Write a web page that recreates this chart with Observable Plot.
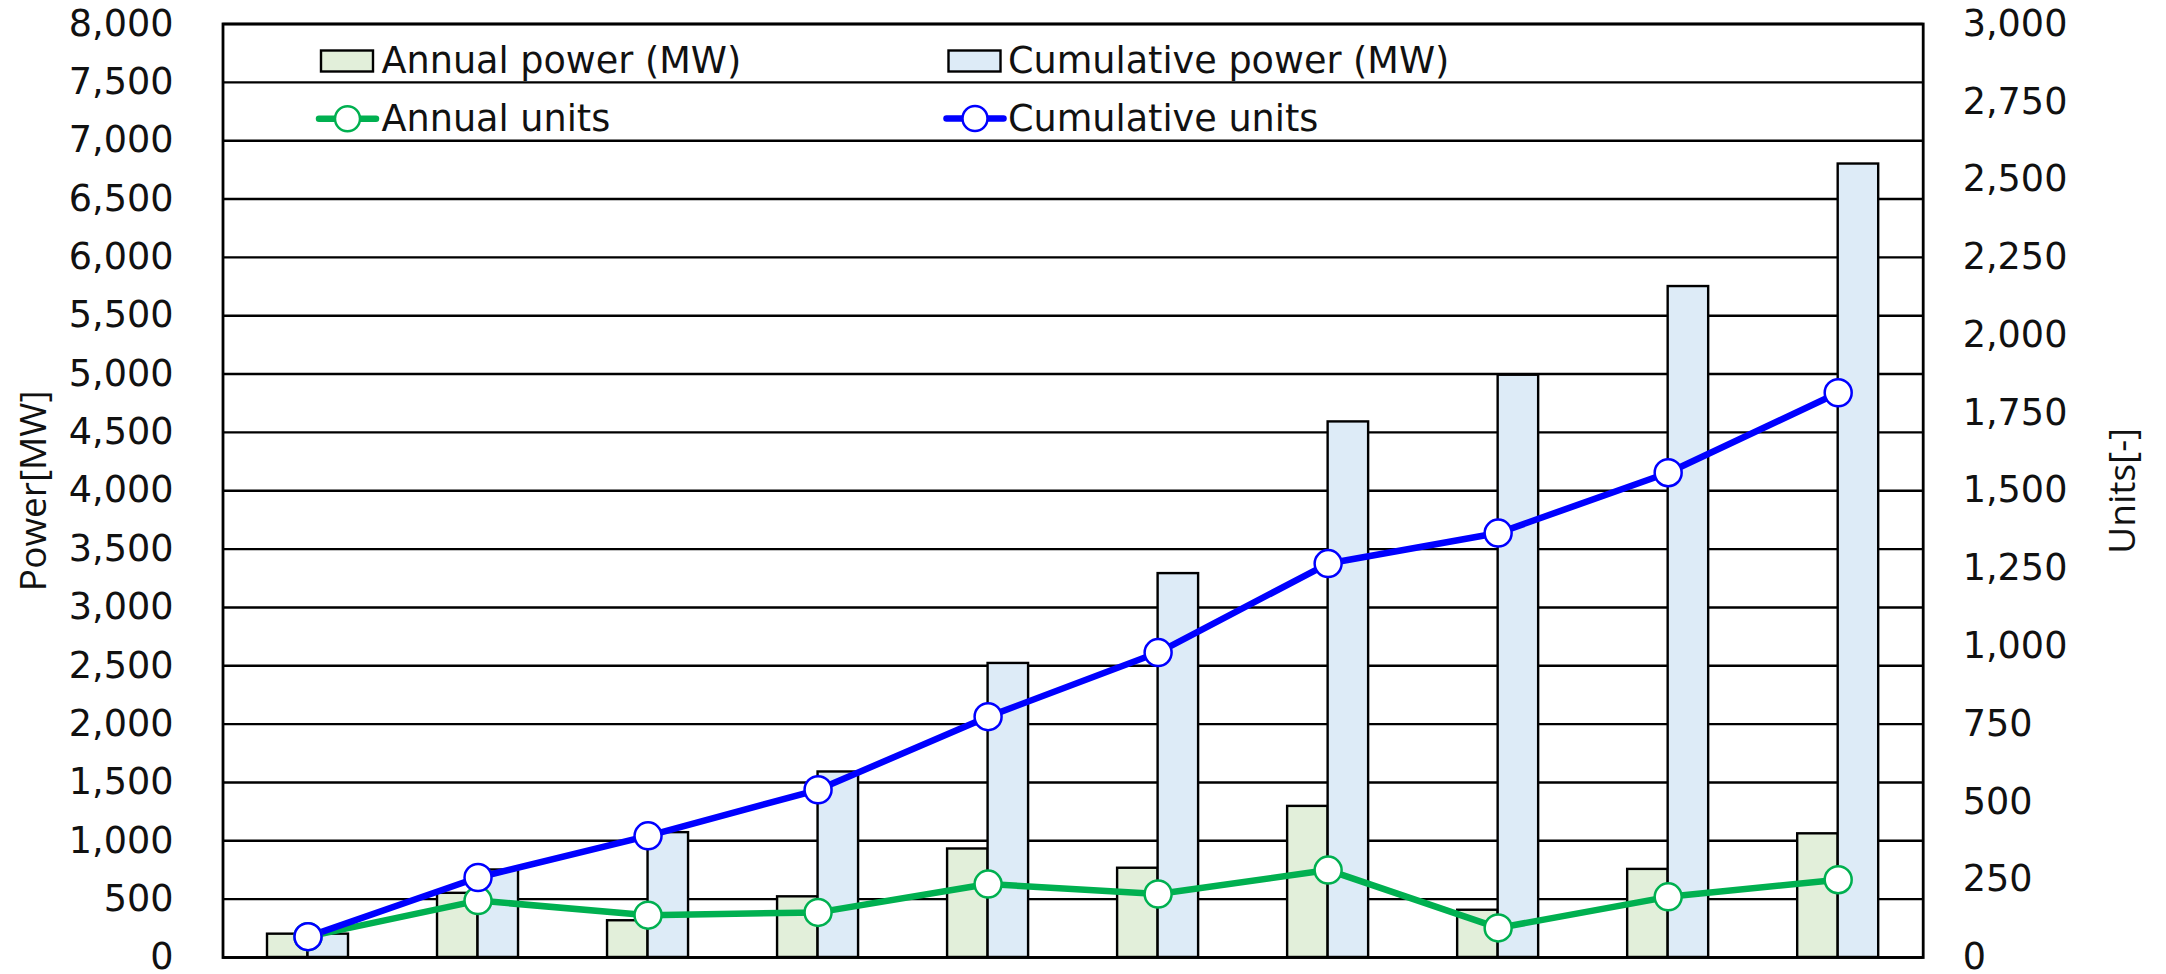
<!DOCTYPE html>
<html>
<head>
<meta charset="utf-8">
<script src="https://cdn.jsdelivr.net/npm/d3@7"></script>
<script src="https://cdn.jsdelivr.net/npm/@observablehq/plot@0.6"></script>
<style>
  html, body { margin: 0; padding: 0; background: #fff; }
  #wrap { position: relative; width: 2166px; height: 974px; }
  #wrap > svg { overflow: visible; }
  #legend { position: absolute; left: 0; top: 0; pointer-events: none; }
</style>
</head>
<body>
<div id="wrap"></div>
<script>
// ---- data ----
const categories = ["1", "2", "3", "4", "5", "6", "7", "8", "9", "10"];
const annualPower = [200, 550, 315, 520, 930, 765, 1295, 405, 755, 1060];
const cumulativePower = [200, 750, 1070, 1590, 2520, 3290, 4590, 4990, 5750, 6800];
const annualUnits = [67, 183, 136, 145, 236, 204, 281, 95, 195, 250];
const cumulativeUnits = [67, 257, 391, 539, 774, 980, 1266, 1364, 1558, 1815];
const powerTicks = d3.range(0, 8001, 500);
const unitTicks = d3.range(0, 3001, 250);
const seriesNames = ["Annual power (MW)", "Cumulative power (MW)", "Annual units", "Cumulative units"];

// ---- build ----
const powerMax = 8000, unitMax = 3000;
const k = powerMax / unitMax;
const table = categories.map((c, i) => ({
  cat: c,
  ap: annualPower[i],
  cp: cumulativePower[i],
  au: annualUnits[i] * k,
  cu: cumulativeUnits[i] * k
}));
const fmt = d3.format(",");

const W = 2166, H = 974;
const mL = 222.5, mR = 243.3, mT = 23.5, mB = 17;
const band = (W - mL - mR) / categories.length;
const barW = 40.5;

const green = "#00B050", blue = "#0000FF";
const fillA = "#E2EFDA", fillC = "#DDEBF7";

const chart = Plot.plot({
  width: W,
  height: H,
  marginLeft: mL,
  marginRight: mR,
  marginTop: mT,
  marginBottom: mB,
  style: { fontFamily: "DejaVu Sans", fontSize: "36.6px", color: "#111", background: "#fff", overflow: "visible" },
  x: { type: "band", domain: categories, paddingInner: 0, paddingOuter: 0, round: false, axis: null },
  y: { type: "linear", domain: [0, powerMax], axis: null },
  marks: [
    Plot.ruleY(powerTicks, { stroke: "#000", strokeWidth: 2.4 }),
    Plot.barY(table, { x: "cat", y: "ap", fill: fillA, stroke: "#000", strokeWidth: 2.4,
      insetLeft: band / 2 - barW, insetRight: band / 2 }),
    Plot.barY(table, { x: "cat", y: "cp", fill: fillC, stroke: "#000", strokeWidth: 2.4,
      insetLeft: band / 2, insetRight: band / 2 - barW }),
    Plot.frame({ stroke: "#000", strokeWidth: 2.8 }),
    Plot.axisY(powerTicks, { anchor: "left", tickSize: 0, tickPadding: 49.5, tickFormat: fmt, label: null, fill: "#111" }),
    Plot.axisY(unitTicks.map(v => v * k), { anchor: "right", tickSize: 0, tickPadding: 39.5,
      tickFormat: d => fmt(Math.round(d / k)), label: null, fill: "#111" }),
    Plot.line(table, { x: "cat", y: "au", stroke: green, strokeWidth: 6.5 }),
    Plot.line(table, { x: "cat", y: "cu", stroke: blue, strokeWidth: 6.5 }),
    Plot.dot(table, { x: "cat", y: "au", r: 13.5, fill: "#fff", stroke: green, strokeWidth: 2.5 }),
    Plot.dot(table, { x: "cat", y: "cu", r: 13.5, fill: "#fff", stroke: blue, strokeWidth: 2.5 }),
    Plot.text(["Power[MW]"], { text: d => d, frameAnchor: "left", rotate: -90, dx: 34 - mL,
      fontFamily: "Open Sans", fontSize: 37, fill: "#111", textAnchor: "middle" }),
    Plot.text(["Units[-]"], { text: d => d, frameAnchor: "right", rotate: -90, dx: 2122.5 - (W - mR),
      fontFamily: "Open Sans", fontSize: 37, fill: "#111", textAnchor: "middle" })
  ]
});

const wrap = document.getElementById("wrap");
wrap.appendChild(chart);

// ---- legend overlay ----
const ns = "http://www.w3.org/2000/svg";
const lg = document.createElementNS(ns, "svg");
lg.setAttribute("id", "legend");
lg.setAttribute("width", W);
lg.setAttribute("height", 160);
const items = [
  { type: "rect", fill: fillA, sx: 321, tx: 381.5, by: 73, name: seriesNames[0] },
  { type: "rect", fill: fillC, sx: 948.5, tx: 1008, by: 73, name: seriesNames[1] },
  { type: "line", color: green, sx: 319, tx: 381.5, by: 131, cy: 118.8, name: seriesNames[2] },
  { type: "line", color: blue, sx: 946.5, tx: 1008, by: 131, cy: 118.5, name: seriesNames[3] }
];
for (const it of items) {
  if (it.type === "rect") {
    const r = document.createElementNS(ns, "rect");
    r.setAttribute("x", it.sx); r.setAttribute("y", 50.5);
    r.setAttribute("width", 52); r.setAttribute("height", 21);
    r.setAttribute("fill", it.fill); r.setAttribute("stroke", "#000"); r.setAttribute("stroke-width", 2.4);
    lg.appendChild(r);
  } else {
    const l = document.createElementNS(ns, "line");
    l.setAttribute("x1", it.sx); l.setAttribute("x2", it.sx + 57);
    l.setAttribute("y1", it.cy); l.setAttribute("y2", it.cy);
    l.setAttribute("stroke", it.color); l.setAttribute("stroke-width", 6.5); l.setAttribute("stroke-linecap", "round");
    lg.appendChild(l);
    const c = document.createElementNS(ns, "circle");
    c.setAttribute("cx", it.sx + 28.5); c.setAttribute("cy", it.cy); c.setAttribute("r", 12.5);
    c.setAttribute("fill", "#fff"); c.setAttribute("stroke", it.color); c.setAttribute("stroke-width", 2.5);
    lg.appendChild(c);
  }
  const t = document.createElementNS(ns, "text");
  t.setAttribute("x", it.tx); t.setAttribute("y", it.by);
  t.setAttribute("font-family", "DejaVu Sans"); t.setAttribute("font-size", "36.6px");
  t.setAttribute("fill", "#111");
  t.textContent = it.name;
  lg.appendChild(t);
}
wrap.appendChild(lg);
</script>
</body>
</html>
